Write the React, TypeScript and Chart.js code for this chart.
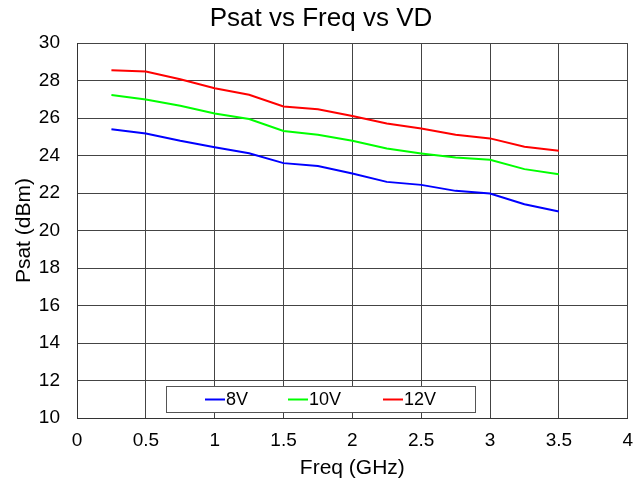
import React, { useEffect, useRef } from "react";
import { Chart, registerables } from "chart.js";

Chart.register(...registerables);

const freq = [0.25, 0.5, 0.75, 1, 1.25, 1.5, 1.75, 2, 2.25, 2.5, 2.75, 3, 3.25, 3.5];
const psat8V = [25.41, 25.18, 24.79, 24.45, 24.13, 23.6, 23.45, 23.05, 22.6, 22.44, 22.12, 21.98, 21.41, 21.02];
const psat10V = [27.23, 27.0, 26.66, 26.25, 25.95, 25.32, 25.11, 24.79, 24.38, 24.12, 23.9, 23.78, 23.28, 23.01];
const psat12V = [28.56, 28.49, 28.08, 27.6, 27.25, 26.62, 26.48, 26.12, 25.71, 25.45, 25.11, 24.92, 24.47, 24.26];
const seriesLabels = ["8V", "10V", "12V"];
const seriesColors = ["#0000ff", "#00ff00", "#ff0000"];

const FONT = "'Liberation Sans', Arial, sans-serif";

const boxLegend = {
  id: "boxLegend",
  afterDraw(chart: any) {
    const { ctx, chartArea } = chart;
    const x0 = Math.round(chartArea.left + 89);
    const y0 = Math.round(chartArea.bottom - 32);
    const w = 309;
    const h = 26;
    ctx.save();
    ctx.fillStyle = "#ffffff";
    ctx.fillRect(x0, y0, w, h);
    ctx.strokeStyle = "#555555";
    ctx.lineWidth = 1;
    ctx.strokeRect(x0 + 0.5, y0 + 0.5, w, h);
    const offsets = [39, 122, 217];
    ctx.font = `18px ${FONT}`;
    ctx.textBaseline = "middle";
    seriesLabels.forEach((lab, i) => {
      const lx = x0 + offsets[i];
      const ly = y0 + h / 2 + 0.5;
      ctx.strokeStyle = seriesColors[i];
      ctx.lineWidth = 2;
      ctx.beginPath();
      ctx.moveTo(lx, ly);
      ctx.lineTo(lx + 20, ly);
      ctx.stroke();
      ctx.fillStyle = "#000000";
      ctx.fillText(lab, lx + 21, ly + 1);
    });
    ctx.restore();
  },
};

export default function App() {
  const ref = useRef<HTMLCanvasElement | null>(null);
  useEffect(() => {
    if (!ref.current) return;
    const mk = (vals: number[]) => freq.map((f, i) => ({ x: f, y: vals[i] }));
    const chart = new Chart(ref.current, {
      type: "line",
      data: {
        datasets: [psat8V, psat10V, psat12V].map((vals, i) => ({
          label: seriesLabels[i],
          data: mk(vals),
          borderColor: seriesColors[i],
          backgroundColor: seriesColors[i],
          borderWidth: 2,
          pointRadius: 0,
          tension: 0,
          fill: false,
        })),
      },
      options: {
        animation: false,
        responsive: false,
        maintainAspectRatio: false,
        layout: { padding: { left: 14, right: 16, top: 0, bottom: 0 } },
        plugins: {
          legend: { display: false },
          tooltip: { enabled: false },
          title: {
            display: true,
            text: "Psat vs Freq vs VD",
            color: "#000",
            font: { family: FONT, size: 26, weight: "normal" },
            padding: { top: 3, bottom: 9 },
          },
        },
        scales: {
          x: {
            type: "linear",
            min: 0,
            max: 4,
            afterFit: (scale: any) => {
              scale.height = 66;
            },
            ticks: {
              stepSize: 0.5,
              color: "#000",
              font: { family: FONT, size: 19 },
              maxRotation: 0,
              padding: 11,
              callback: (v: any) => String(Number(v)),
            },
            grid: { color: "#444444", lineWidth: 1, drawTicks: false },
            border: { color: "#333333", width: 1 },
            title: {
              display: true,
              text: "Freq (GHz)",
              color: "#000",
              font: { family: FONT, size: 21 },
              padding: { top: 0, bottom: 3 },
            },
          },
          y: {
            type: "linear",
            min: 10,
            max: 30,
            afterFit: (scale: any) => {
              scale.width = 63;
            },
            ticks: {
              stepSize: 2,
              color: "#000",
              font: { family: FONT, size: 19 },
              padding: 17,
              callback: (v: any) => String(Number(v)),
            },
            grid: { color: "#444444", lineWidth: 1, drawTicks: false },
            border: { color: "#333333", width: 1 },
            title: {
              display: true,
              text: "Psat (dBm)",
              color: "#000",
              font: { family: FONT, size: 21 },
              padding: { top: -2, bottom: 0 },
            },
          },
        },
      },
      plugins: [boxLegend],
    });
    return () => chart.destroy();
  }, []);
  return (
    <div style={{ position: "absolute", left: 0, top: 0, width: 644, height: 484, background: "#fff" }}>
      <canvas ref={ref} width={644} height={484} style={{ width: 644, height: 484, display: "block" }} />
    </div>
  );
}
